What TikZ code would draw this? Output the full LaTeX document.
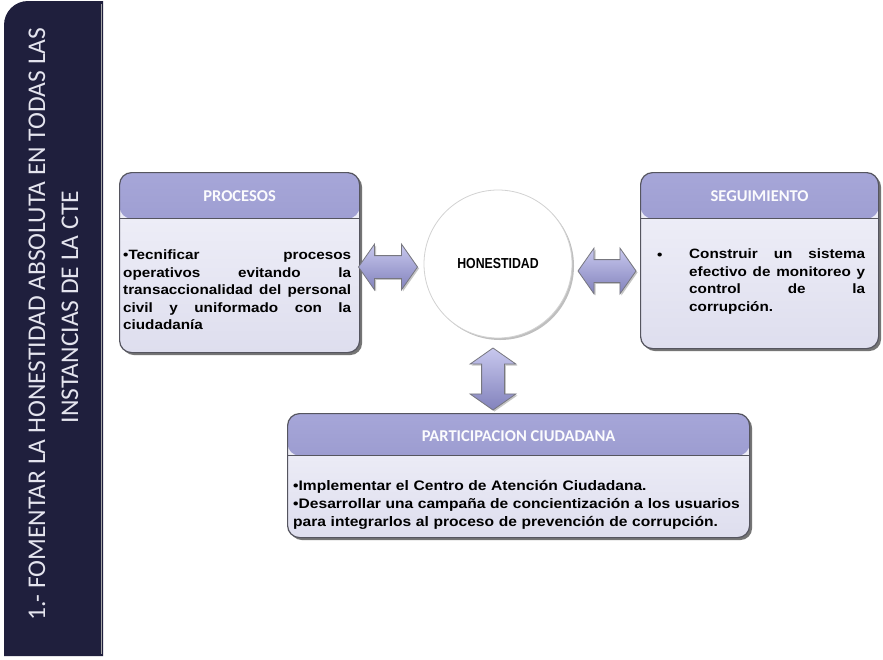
\documentclass[tikz,border=0pt]{standalone}
\usepackage{fontspec}
\setmainfont{Liberation Sans}
\newfontfamily\calfont{Carlito}
\newfontfamily\bodyfont[FakeStretch=1.13]{Liberation Sans}
\newfontfamily\honfont[FakeStretch=0.85]{Liberation Sans}
\usetikzlibrary{shapes.arrows,shadows}
\definecolor{navy}{HTML}{1F1F3D}
\definecolor{hdrtop}{HTML}{A6A6D8}
\definecolor{hdrbot}{HTML}{8A8AC2}
\definecolor{bodytop}{HTML}{F2F2FA}
\definecolor{bodybot}{HTML}{DEDEEE}
\definecolor{edge}{HTML}{55555F}
\definecolor{arrtop}{HTML}{C8C8EE}
\definecolor{arrbot}{HTML}{8282BC}
\definecolor{titlec}{HTML}{E4E4EE}
\begin{document}
\begin{tikzpicture}[x=1pt,y=-1pt,
  box/.style={rounded corners=12pt, draw=edge, line width=1.2pt,
    top color=bodytop, bottom color=bodybot, inner sep=0pt, anchor=north west,
    drop shadow={shadow xshift=2.5pt, shadow yshift=-2.5pt, fill=black!60, opacity=0.9}},
  hdrband/.style={path picture={
    \shade[top color=hdrtop,bottom color=hdrbot] (path picture bounding box.north west) rectangle ([yshift=-#1]path picture bounding box.north east);
    \draw[edge,line width=1.6pt] ([yshift=-#1]path picture bounding box.north west) -- ([yshift=-#1]path picture bounding box.north east);}},
  hdrtext/.style={font=\calfont\bfseries\fontsize{16.5}{20}\selectfont, text=white!96!hdrtop, inner sep=0pt},
  bodytext/.style={font=\bodyfont\bfseries\fontsize{13.5}{17.5}\selectfont, inner sep=0pt, anchor=north west, align=left},
  dblarrow/.style={double arrow, double arrow head extend=11.5pt, double arrow tip angle=110,
    inner xsep=0pt, inner ysep=11pt, draw=edge!80, line width=0.8pt,
    top color=arrtop, bottom color=arrbot,
    drop shadow={shadow xshift=1.5pt, shadow yshift=-1.5pt, fill=black!45}},
  titletext/.style={font=\calfont\fontsize{25.5}{30}\selectfont, text=titlec, inner sep=0pt, rotate=90}
]
\useasboundingbox (0,0) rectangle (883,659);
\fill[white] (0,0) rectangle (883,659);

% side bar
\fill[navy] (103,656) -- (4,656) -- (4,25) arc[start angle=180,end angle=270,radius=24] -- (103,1) -- cycle;
\draw[gray!70,line width=1.5pt] (101.5,4) -- (101.5,654);
\node[titletext] (title1) at (37,324) {1.- FOMENTAR LA HONESTIDAD ABSOLUTA EN TODAS LAS};
\node[titletext] (title2) at (70,307) {INSTANCIAS DE LA CTE};

% boxes
\node[box, hdrband=46pt, minimum width=240pt, minimum height=180pt] (proc) at (119,172) {};
\node[box, hdrband=46pt, minimum width=238pt, minimum height=176pt] (segu) at (640,172) {};
\node[box, hdrband=42pt, minimum width=462pt, minimum height=124pt] (part) at (287,413) {};

\node[hdrtext] (proch) at ([yshift=-24pt]proc.north) {PROCESOS};
\node[hdrtext] (segh) at ([yshift=-24pt]segu.north) {SEGUIMIENTO};
\node[hdrtext] (parth) at ([yshift=-23pt]part.north) {PARTICIPACION CIUDADANA};

\node[bodytext, text width=228pt] (proct) at (123,250)
  {•Tecnificar\hfill procesos\\
   operativos\hfill evitando\hfill la\\
   transaccionalidad\hfill del\hfill personal\\
   civil\hfill y\hfill uniformado\hfill con\hfill la\\
   ciudadanía};

\node[bodytext, anchor=base west] (segb) at (657,259) {•};
\node[bodytext, text width=176pt] (segt) at (689,249)
  {Construir\hfill un\hfill sistema\\
   efectivo\hfill de\hfill monitoreo\hfill y\\
   control\hfill de\hfill la\\
   corrupción.};

\node[bodytext, text width=470pt, font=\bodyfont\bfseries\fontsize{13.8}{18}\selectfont] (partt) at (293,480)
  {•Implementar el Centro de Atención Ciudadana.\\
   •Desarrollar una campaña de concientización a los usuarios\\
   para integrarlos al proceso de prevención de corrupción.};

% centre circle
\node[circle, minimum size=148pt, inner sep=0pt, fill=white, draw=gray!35, line width=0.8pt,
  drop shadow={shadow xshift=2pt, shadow yshift=-2pt, fill=black!50},
  font=\honfont\bfseries\fontsize{14.5}{17}\selectfont] (hon) at (498,264) {HONESTIDAD};

% double arrows
\node[dblarrow, minimum height=59pt] (la) at (388,267) {};
\node[dblarrow, minimum height=58pt] (ra) at (607,271) {};
\node[dblarrow, minimum height=62pt, rotate=90] (va) at (493,379) {};
\end{tikzpicture}
\end{document}
